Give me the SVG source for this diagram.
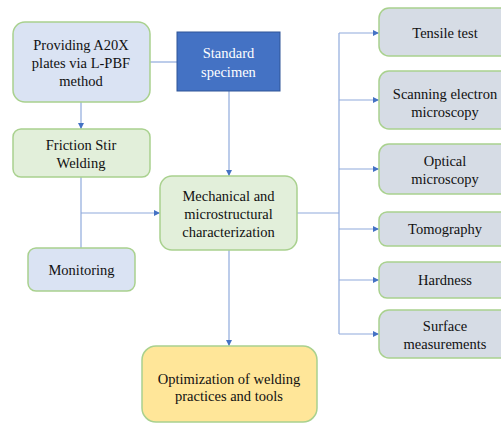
<svg xmlns="http://www.w3.org/2000/svg" width="501" height="423" viewBox="0 0 501 423">
<defs>
<marker id="ah" viewBox="0 0 6 6" refX="6" refY="3" markerWidth="6" markerHeight="6" markerUnits="userSpaceOnUse" orient="auto">
<path d="M0,0 L6,3 L0,6 z" fill="#4472c4"/>
</marker>
</defs>
<style>
text{font-family:"Times New Roman","Liberation Serif","DejaVu Serif",Georgia,serif;font-size:14.5px;fill:#111;text-anchor:middle}
.g{stroke:#a9d18e;stroke-width:1.5}
.blue{fill:#dae3f3}
.green{fill:#e2efda}
.gray{fill:#d6dce5}
.c{fill:none;stroke:#8faadc;stroke-width:1.2}
.a{marker-end:url(#ah)}
</style>
<rect width="501" height="423" fill="#fff"/>
<g id="connectors">
<path class="c" d="M150,62 H177"/>
<path class="c a" d="M81,102 V129"/>
<path class="c" d="M81,177 V248"/>
<path class="c a" d="M81,213 H160"/>
<path class="c a" d="M229,91 V176"/>
<path class="c a" d="M229,250 V346"/>
<path class="c" d="M297,213 H339"/>
<path class="c" d="M339,33 V334"/>
<path class="c a" d="M339,33 H379"/>
<path class="c a" d="M339,100 H379"/>
<path class="c a" d="M339,169 H379"/>
<path class="c a" d="M339,229 H379"/>
<path class="c a" d="M339,280 H379"/>
<path class="c a" d="M339,334 H379"/>
</g>
<g id="providing">
<rect class="g blue" x="13" y="22" width="137" height="80" rx="12"/>
<text x="81" y="50">Providing A20X</text>
<text x="81" y="68">plates via L-PBF</text>
<text x="81" y="86">method</text>
</g>
<g id="specimen">
<rect x="177" y="32" width="103" height="59" fill="#4472c4" stroke="#2f5597" stroke-width="1"/>
<text x="228.5" y="58" style="fill:#fff">Standard</text>
<text x="228.5" y="77" style="fill:#fff">specimen</text>
</g>
<g id="fsw">
<rect class="g green" x="13" y="129" width="137" height="48" rx="8"/>
<text x="81" y="150">Friction Stir</text>
<text x="81" y="168">Welding</text>
</g>
<g id="mechanical">
<rect class="g green" x="160" y="176" width="137" height="74" rx="12"/>
<text x="228.5" y="201">Mechanical and</text>
<text x="228.5" y="219">microstructural</text>
<text x="228.5" y="237">characterization</text>
</g>
<g id="monitoring">
<rect class="g blue" x="28" y="248" width="107" height="43" rx="8"/>
<text x="81.5" y="275">Monitoring</text>
</g>
<g id="optimization">
<rect x="142" y="346" width="175" height="76" rx="14" fill="#ffe699" stroke="#a9d18e" stroke-width="1.5"/>
<text x="229" y="384">Optimization of welding</text>
<text x="229" y="401">practices and tools</text>
</g>
<g id="tensile">
<rect class="g gray" x="379" y="8" width="135" height="48" rx="10"/>
<text x="445" y="38">Tensile test</text>
</g>
<g id="sem">
<rect class="g gray" x="379" y="71" width="135" height="58" rx="10"/>
<text x="445" y="99">Scanning electron</text>
<text x="445" y="117">microscopy</text>
</g>
<g id="optical">
<rect class="g gray" x="379" y="144" width="135" height="50" rx="10"/>
<text x="445" y="166">Optical</text>
<text x="445" y="184">microscopy</text>
</g>
<g id="tomography">
<rect class="g gray" x="379" y="212" width="135" height="34" rx="8"/>
<text x="445" y="234">Tomography</text>
</g>
<g id="hardness">
<rect class="g gray" x="379" y="262" width="135" height="36" rx="8"/>
<text x="445" y="285">Hardness</text>
</g>
<g id="surface">
<rect class="g gray" x="379" y="310" width="135" height="48" rx="10"/>
<text x="445" y="331">Surface</text>
<text x="445" y="349">measurements</text>
</g>
</svg>
